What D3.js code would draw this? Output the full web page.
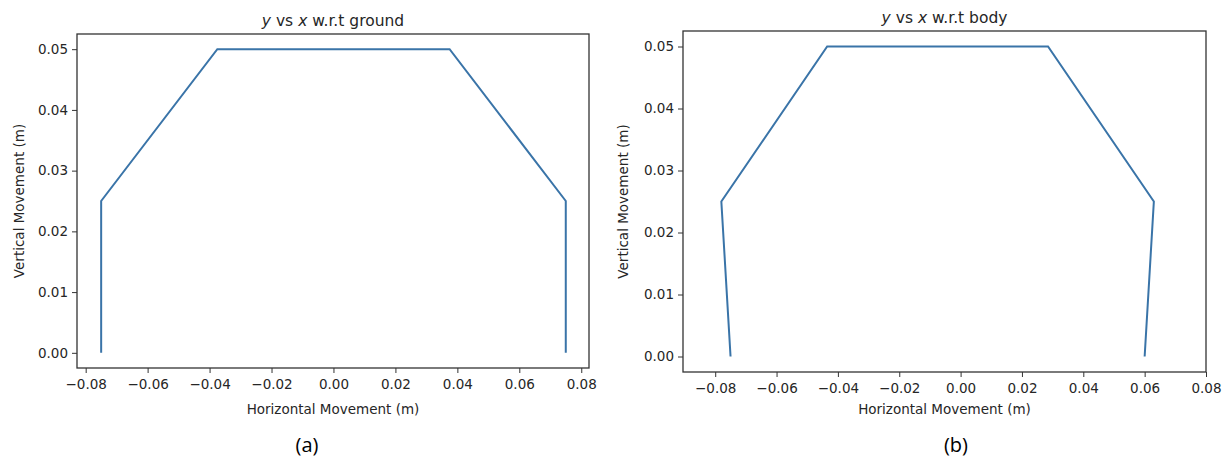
<!DOCTYPE html>
<html>
<head>
<meta charset="utf-8">
<script src="https://cdn.jsdelivr.net/npm/d3@7"></script>
<style>
body { margin: 0; background: #fff; }
text { font-family: "DejaVu Sans", sans-serif; fill: #262626; }
</style>
</head>
<body>
<script>
// data (metres)
var groundX = [-0.075, -0.075, -0.0375, 0.0375, 0.075, 0.075],
    groundY = [0, 0.025, 0.05, 0.05, 0.025, 0];
var bodyX = [-0.075, -0.078, -0.0435, 0.0285, 0.063, 0.060],
    bodyY = [0, 0.025, 0.05, 0.05, 0.025, 0];
var xTicks = [-0.08, -0.06, -0.04, -0.02, 0, 0.02, 0.04, 0.06, 0.08],
    yTicks = [0, 0.01, 0.02, 0.03, 0.04, 0.05];
var titles = ["ground", "body"],
    captions = ["(a)", "(b)"];

var width = 1231, height = 464;

var svg = d3.select("body").append("svg")
    .attr("width", width)
    .attr("height", height);

var panels = [
    {xs: groundX, ys: groundY, title: titles[0], cap: captions[0],
     left: 77, right: 589, top: 34, bottom: 368, xDom: [-0.0828, 0.0825], ylabX: 19, capX: 307},
    {xs: bodyX, ys: bodyY, title: titles[1], cap: captions[1],
     left: 683, right: 1206, top: 31, bottom: 372, xDom: [-0.0905, 0.08], ylabX: 623, capX: 956}
];

panels.forEach(function (p) {
    var x = d3.scaleLinear().domain(p.xDom).range([p.left, p.right]);
    var y = d3.scaleLinear().domain([-0.0025, 0.0525]).range([p.bottom, p.top]);
    var g = svg.append("g");
    var cx = (p.left + p.right) / 2;

    // line
    var pts = p.xs.map(function (v, i) { return [v, p.ys[i]]; });
    g.append("path")
        .datum(pts)
        .attr("d", d3.line().x(function (d) { return x(d[0]); }).y(function (d) { return y(d[1]); }))
        .attr("fill", "none")
        .attr("stroke", "#3a74a8")
        .attr("stroke-width", 2)
        .attr("stroke-linejoin", "miter");

    // axes
    var xa = g.append("g")
        .attr("transform", "translate(0," + p.bottom + ")")
        .call(d3.axisBottom(x).tickValues(xTicks).tickSize(5).tickPadding(6)
            .tickFormat(function (d) { return d3.format(".2f")(d).replace("-", "\u2212"); }));
    var ya = g.append("g")
        .attr("transform", "translate(" + p.left + ",0)")
        .call(d3.axisLeft(y).tickValues(yTicks).tickSize(5).tickPadding(4)
            .tickFormat(d3.format(".2f")));
    [xa, ya].forEach(function (a) {
        a.select(".domain").remove();
        a.selectAll("line").attr("stroke", "#333");
        a.selectAll("text").style("font-size", "13.5px").style("fill", "#262626")
            .style("font-family", "'DejaVu Sans', sans-serif");
    });

    // frame
    g.append("rect")
        .attr("x", p.left).attr("y", p.top)
        .attr("width", p.right - p.left).attr("height", p.bottom - p.top)
        .attr("fill", "none").attr("stroke", "#333").attr("stroke-width", 1.3);

    // title
    var t = g.append("text")
        .attr("x", cx).attr("y", p.top - 8)
        .attr("text-anchor", "middle")
        .style("font-size", "15.5px");
    t.append("tspan").style("font-style", "italic").text("y");
    t.append("tspan").text(" vs ");
    t.append("tspan").style("font-style", "italic").text("x");
    t.append("tspan").text(" w.r.t " + p.title);

    // axis labels
    g.append("text")
        .attr("x", cx).attr("y", 414)
        .attr("text-anchor", "middle")
        .style("font-size", "13.5px")
        .text("Horizontal Movement (m)");
    g.append("text")
        .attr("transform", "translate(" + p.ylabX + "," + ((p.top + p.bottom) / 2) + ") rotate(-90)")
        .attr("text-anchor", "middle")
        .attr("dy", "0.35em")
        .style("font-size", "13.5px")
        .text("Vertical Movement (m)");

    // caption
    g.append("text")
        .attr("x", p.capX).attr("y", 452)
        .attr("text-anchor", "middle")
        .style("font-family", "'Open Sans', 'Liberation Sans', sans-serif")
        .style("font-size", "20px")
        .style("fill", "#000")
        .text(p.cap);
});
</script>
</body>
</html>
